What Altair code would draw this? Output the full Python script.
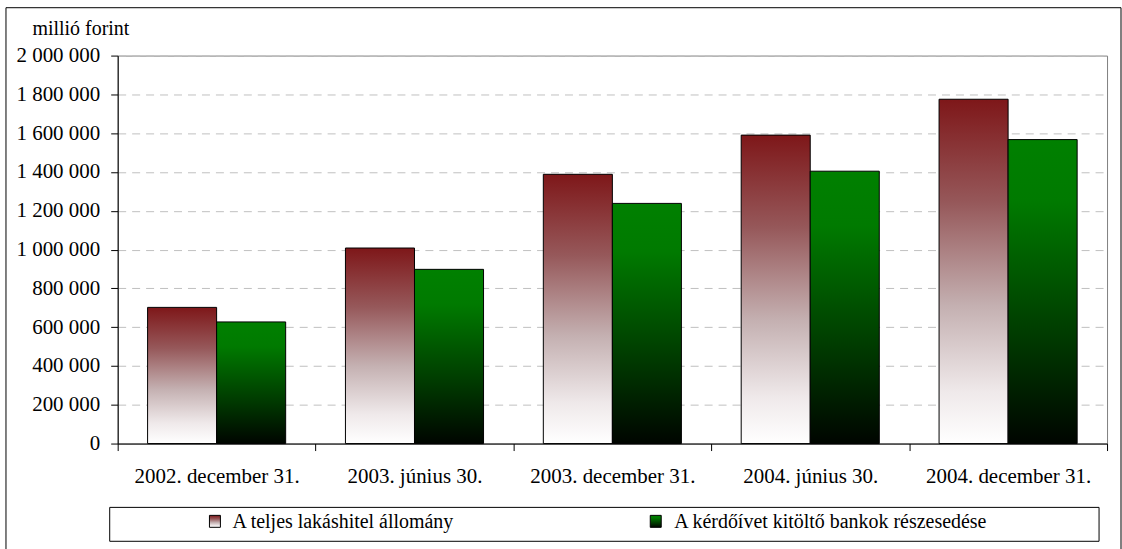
import altair as alt
import pandas as pd

# Housing loan stock (million HUF) at each reporting date
categories = [
    "2002. december 31.",
    "2003. június 30.",
    "2003. december 31.",
    "2004. június 30.",
    "2004. december 31.",
]
series = [
    "A teljes lakáshitel állomány",
    "A kérdőívet kitöltő bankok részesedése",
]
total_stock = [702000, 1008000, 1388000, 1590000, 1775000]
survey_banks = [627000, 898000, 1238000, 1404000, 1567000]
y_ticks = list(range(0, 2000001, 200000))

FONT = "Liberation Serif, Times New Roman, serif"
W, H = 992, 389

red_fill = alt.LinearGradient(
    gradient="linear", x1=0, x2=0, y1=0, y2=1,
    stops=[
        alt.GradientStop(color="#7e1719", offset=0),
        alt.GradientStop(color="#96585a", offset=0.3),
        alt.GradientStop(color="#c4b0b1", offset=0.6),
        alt.GradientStop(color="#efe9ea", offset=0.85),
        alt.GradientStop(color="#ffffff", offset=1),
    ],
)
green_fill = alt.LinearGradient(
    gradient="linear", x1=0, x2=0, y1=0, y2=1,
    stops=[
        alt.GradientStop(color="#008000", offset=0),
        alt.GradientStop(color="#007a00", offset=0.2),
        alt.GradientStop(color="#003a00", offset=0.65),
        alt.GradientStop(color="#000500", offset=1),
    ],
)

df_total = pd.DataFrame({"date": categories, "series": series[0], "value": total_stock})
df_banks = pd.DataFrame({"date": categories, "series": series[1], "value": survey_banks})

x_enc = alt.X(
    "date:N", sort=categories,
    scale=alt.Scale(paddingInner=0, paddingOuter=0),
    axis=alt.Axis(
        title=None, labelAngle=0, labelFont=FONT, labelFontSize=21,
        labelColor="black", labelPadding=15, tickColor="black", tickSize=7,
        tickBand="extent", domainColor="black",
    ),
)
xo_enc = alt.XOffset(
    "series:N", sort=series,
    scale=alt.Scale(domain=series, paddingOuter=0.433, paddingInner=0),
)
y_enc = alt.Y(
    "value:Q",
    scale=alt.Scale(domain=[0, 2000000]),
    axis=alt.Axis(
        values=y_ticks,
        labelExpr="replace(format(datum.value, ','), regexp(',', 'g'), ' ')",
        labelFont=FONT, labelFontSize=21, labelColor="black", labelPadding=11,
        tickColor="black", tickSize=7, domainColor="black",
        grid=True, gridColor="#c0c0c0", gridDash=[8, 6], gridWidth=1,
        title="millió forint", titleAngle=0, titleX=-86, titleY=-21,
        titleAlign="left", titleBaseline="alphabetic", titleFont=FONT,
        titleFontSize=20, titleFontWeight="normal", titleColor="black",
    ),
)

bars_total = alt.Chart(df_total).mark_bar(
    fill=red_fill, stroke="black", strokeWidth=1
).encode(x=x_enc, xOffset=xo_enc, y=y_enc)

bars_banks = alt.Chart(df_banks).mark_bar(
    fill=green_fill, stroke="black", strokeWidth=1
).encode(x=x_enc, xOffset=xo_enc, y=y_enc)

base = alt.Chart(pd.DataFrame({"k": [0]}))

# outer frame of the figure
frame = base.mark_rect(fill="white", fillOpacity=0, stroke="black", strokeWidth=1).encode(
    x=alt.value(-112), x2=alt.value(1006), y=alt.value(-48), y2=alt.value(496)
)

# legend box with gradient swatches
legend_box = base.mark_rect(fill="white", stroke="black", strokeWidth=1).encode(
    x=alt.value(-8), x2=alt.value(984), y=alt.value(453), y2=alt.value(487)
)
swatch_total = base.mark_rect(fill=red_fill, stroke="black", strokeWidth=1).encode(
    x=alt.value(92), x2=alt.value(103), y=alt.value(461), y2=alt.value(473)
)
swatch_banks = base.mark_rect(fill=green_fill, stroke="black", strokeWidth=1).encode(
    x=alt.value(534), x2=alt.value(545), y=alt.value(461), y2=alt.value(473)
)
label_total = base.mark_text(
    align="left", baseline="alphabetic", font=FONT, fontSize=20, color="black"
).encode(x=alt.value(115), y=alt.value(474), text=alt.value(series[0]))
label_banks = base.mark_text(
    align="left", baseline="alphabetic", font=FONT, fontSize=20, color="black"
).encode(x=alt.value(558), y=alt.value(474), text=alt.value(series[1]))

chart = alt.layer(
    bars_total, bars_banks, frame, legend_box,
    swatch_total, swatch_banks, label_total, label_banks,
).properties(
    width=W, height=H,
    padding={"left": 5, "top": 6, "right": 0, "bottom": 0},
    background="white",
).configure_view(stroke="#808080", strokeWidth=1)

chart.save("out.html", embed_options={"renderer": "svg", "actions": False})
